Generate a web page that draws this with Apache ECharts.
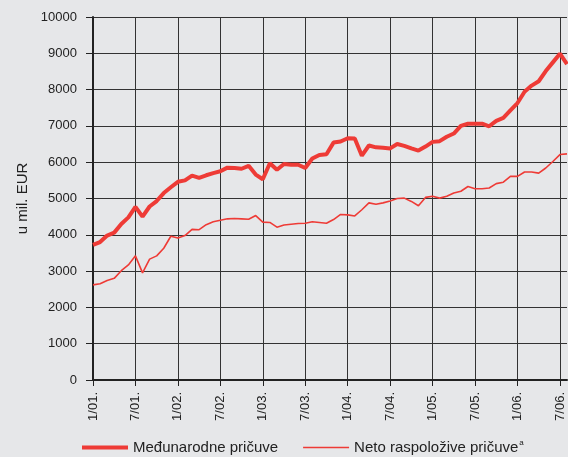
<!DOCTYPE html>
<html lang="hr">
<head>
<meta charset="utf-8">
<script src="https://cdn.jsdelivr.net/npm/echarts@6/dist/echarts.min.js"></script>
<style>
  html, body { margin: 0; padding: 0; background: #e6e7e9; }
  #main { width: 568px; height: 457px; }
</style>
</head>
<body>
<div id="main"></div>
<script>
// mjeseci 1/01. - 8/06.
var months = [
  '1/01.','2/01.','3/01.','4/01.','5/01.','6/01.','7/01.','8/01.','9/01.','10/01.','11/01.','12/01.',
  '1/02.','2/02.','3/02.','4/02.','5/02.','6/02.','7/02.','8/02.','9/02.','10/02.','11/02.','12/02.',
  '1/03.','2/03.','3/03.','4/03.','5/03.','6/03.','7/03.','8/03.','9/03.','10/03.','11/03.','12/03.',
  '1/04.','2/04.','3/04.','4/04.','5/04.','6/04.','7/04.','8/04.','9/04.','10/04.','11/04.','12/04.',
  '1/05.','2/05.','3/05.','4/05.','5/05.','6/05.','7/05.','8/05.','9/05.','10/05.','11/05.','12/05.',
  '1/06.','2/06.','3/06.','4/06.','5/06.','6/06.','7/06.','8/06.'
];
// Međunarodne pričuve (u mil. EUR)
var medjunarodne = [
  3720,3800,3980,4060,4300,4480,4770,4500,4780,4930,5150,5310,
  5460,5500,5630,5570,5640,5700,5750,5850,5840,5820,5900,5660,
  5530,5970,5790,5950,5930,5930,5840,6100,6200,6220,6540,6570,
  6660,6650,6180,6460,6410,6400,6380,6500,6450,6380,6320,6430,
  6560,6580,6700,6790,7000,7060,7060,7060,6990,7140,7220,7430,
  7630,7940,8110,8230,8510,8750,8990,8700
];
// Neto raspoložive pričuve (u mil. EUR)
var neto = [
  2620,2650,2740,2800,3010,3170,3420,2950,3330,3420,3630,3960,
  3910,3980,4150,4140,4280,4360,4400,4440,4450,4440,4430,4530,
  4350,4340,4210,4270,4290,4310,4320,4360,4340,4320,4420,4560,
  4550,4520,4690,4880,4840,4880,4930,5000,5010,4920,4800,5030,
  5060,5010,5060,5150,5200,5330,5270,5270,5290,5410,5450,5610,
  5610,5730,5730,5700,5840,6020,6210,6230
];

var chart = echarts.init(document.getElementById('main'));
var crvena = '#ee3b36';
var font = 'Liberation Sans, Arial, sans-serif';

chart.setOption({
  backgroundColor: '#e6e7e9',
  animation: false,
  textStyle: { fontFamily: font },
  grid: { left: 93, right: 1, top: 17, bottom: 77 },
  legend: {
    left: 82,
    top: 439,
    padding: 0,
    itemWidth: 46,
    itemHeight: 14,
    itemGap: 25,
    textStyle: {
      fontFamily: font, fontSize: 15, color: '#222',
      rich: {
        n: { fontFamily: font, fontSize: 15, color: '#222' },
        s: { fontFamily: font, fontSize: 8, color: '#222', verticalAlign: 'top', padding: [0, 0, 9, 1] }
      }
    },
    formatter: function (name) {
      if (name === 'Neto raspoložive pričuve') return '{n|' + name + '}{s|a}';
      return '{n|' + name + '}';
    },
    data: [
      { name: 'Međunarodne pričuve', icon: 'path://M0,6 L46,6 L46,10 L0,10 Z' },
      { name: 'Neto raspoložive pričuve', icon: 'path://M0,7.3 L46,7.3 L46,8.7 L0,8.7 Z' }
    ]
  },
  xAxis: {
    type: 'category',
    data: months,
    boundaryGap: false,
    axisLine: { lineStyle: { color: '#222', width: 2 } },
    axisTick: { interval: 5, length: 6, lineStyle: { color: '#222' } },
    axisLabel: { interval: 5, rotate: 90, fontSize: 13, color: '#222', margin: 12 },
    splitLine: { show: true, interval: 5, lineStyle: { color: '#333', width: 1 } }
  },
  yAxis: {
    type: 'value',
    min: 0,
    max: 10000,
    interval: 1000,
    name: 'u mil. EUR',
    nameLocation: 'middle',
    nameGap: 62,
    nameTextStyle: { fontSize: 15, color: '#222' },
    axisLine: { show: true, lineStyle: { color: '#222', width: 2 } },
    axisTick: { show: true, length: 7, lineStyle: { color: '#222' } },
    axisLabel: { fontSize: 13, color: '#222', margin: 16, formatter: function (v) { return String(v); } },
    splitLine: { lineStyle: { color: '#333', width: 1 } }
  },
  series: [
    {
      name: 'Međunarodne pričuve',
      type: 'line',
      data: medjunarodne,
      symbol: 'none',
      itemStyle: { color: crvena },
      lineStyle: { color: crvena, width: 4 }
    },
    {
      name: 'Neto raspoložive pričuve',
      type: 'line',
      data: neto,
      symbol: 'none',
      itemStyle: { color: crvena },
      lineStyle: { color: crvena, width: 1.6 }
    }
  ]
});
</script>
</body>
</html>
